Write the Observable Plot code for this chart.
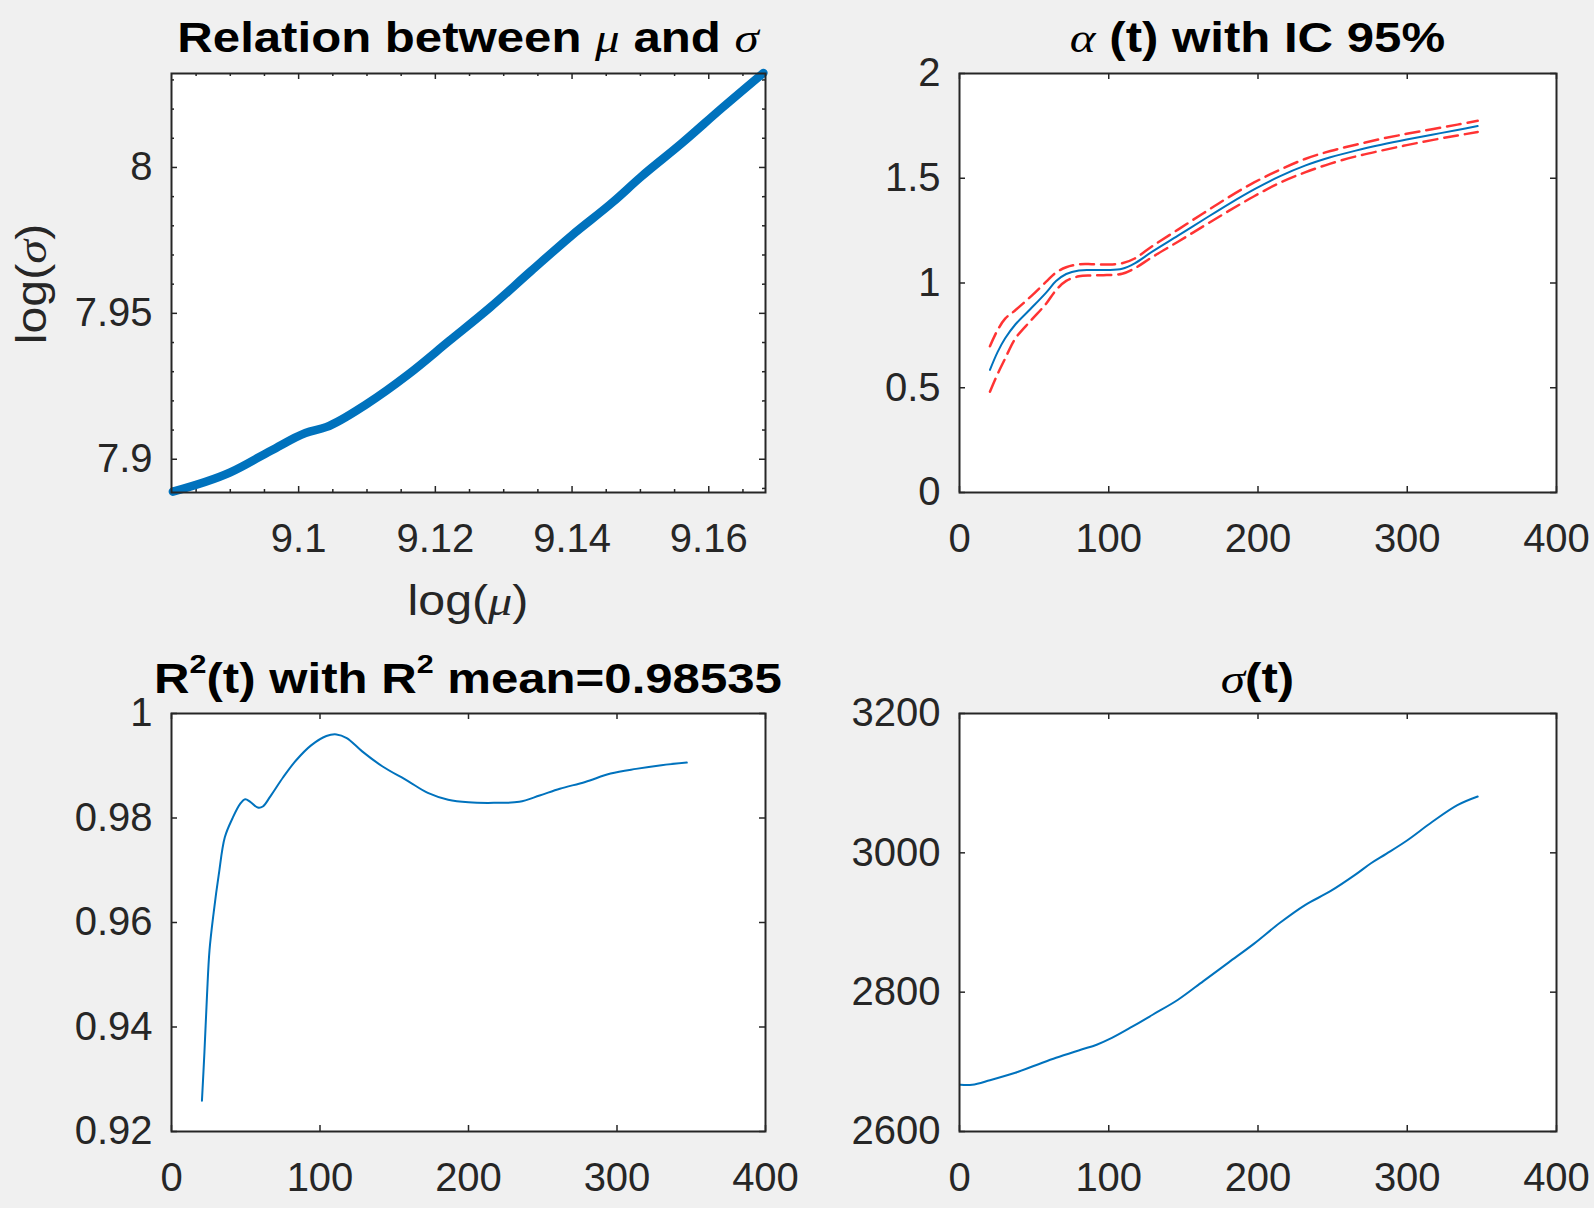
<!DOCTYPE html>
<html>
<head>
<meta charset="utf-8">
<script src="https://cdn.jsdelivr.net/npm/d3@7"></script>
<script src="https://cdn.jsdelivr.net/npm/@observablehq/plot@0.6"></script>
<style>
  html, body { margin: 0; padding: 0; background: #f0f0f0; }
  #root { position: relative; width: 1594px; height: 1208px; background: #f0f0f0; overflow: hidden;
          font-family: "Liberation Sans", Arial, Helvetica, sans-serif; color: #000; }
  .panel { position: absolute; width: 797px; height: 604px; }
  .title { position: absolute; text-align: center; font-weight: bold; font-size: 42px; line-height: 1;
           white-space: nowrap; transform: scaleX(1.17); transform-origin: center; }
  .greek { font-family: "Liberation Serif", "DejaVu Serif", serif; font-style: italic; font-weight: normal; }
  .label { position: absolute; text-align: center; font-size: 42px; line-height: 1; white-space: nowrap; color: #262626; }
  sup { font-size: 0.62em; vertical-align: 0.75em; line-height: 0; }
</style>
</head>
<body>
<div id="root">
  <div class="title" style="left:171px; width:594px; top:17px;">Relation between <span class="greek">μ</span> and <span class="greek">σ</span></div>
  <div class="title" style="left:959px; width:597px; top:17px;"><span class="greek">α</span> (t) with IC 95%</div>
  <div class="title" style="left:171px; width:594px; top:658px;">R<sup>2</sup>(t) with R<sup>2</sup> mean=0.98535</div>
  <div class="title" style="left:959px; width:597px; top:658px;"><span class="greek">σ</span>(t)</div>
  <div class="label" style="left:368px; width:200px; top:580px; transform: scaleX(1.15);">log(<span class="greek">μ</span>)</div>
  <div class="label" style="left:-68px; width:200px; top:263px; transform: rotate(-90deg) scaleX(1.15);">log(<span class="greek">σ</span>)</div>
  <div id="p1" class="panel" style="left:0px; top:0px;"></div>
  <div id="p2" class="panel" style="left:797px; top:0px;"></div>
  <div id="p3" class="panel" style="left:0px; top:604px;"></div>
  <div id="p4" class="panel" style="left:797px; top:604px;"></div>
</div>
<script>
// ---------- Data ----------
// Panel 1: relation between log(mu) and log(sigma)
const logMu    = [9.0816, 9.0900, 9.0960, 9.1010, 9.1040, 9.1100, 9.1160, 9.1220, 9.1280, 9.1340, 9.1400, 9.1460, 9.1500, 9.1560, 9.1620, 9.1680];
const logSigma = [7.8889, 7.8955, 7.9030, 7.9090, 7.9110, 7.9190, 7.9290, 7.9405, 7.9520, 7.9645, 7.9768, 7.9882, 7.9966, 8.0082, 8.0205, 8.0324];
const muTicks = [9.1, 9.12, 9.14, 9.16];
const muMinorTicks = [9.085, 9.09, 9.095, 9.105, 9.11, 9.115, 9.125, 9.13, 9.135, 9.145, 9.15, 9.155, 9.165];
const sigmaLogTicks = [7.9, 7.95, 8];
const sigmaLogMinorTicks = [7.89, 7.91, 7.92, 7.93, 7.94, 7.96, 7.97, 7.98, 7.99, 8.01, 8.02, 8.03];

// Panel 2: alpha(t) with 95% CI
const alphaT     = [20.4, 25.5, 30.6, 37.4, 47.7, 57.9, 64.7, 71.5, 80, 88.5, 98.7, 109, 117.4, 129.4, 146.4, 163.4, 180.4, 197.4, 214.5, 231.5, 248.5, 265.5, 282.6, 299.6, 316.6, 333.6, 347.2];
const alphaValue = [0.585, 0.670, 0.736, 0.802, 0.877, 0.953, 1.009, 1.043, 1.060, 1.062, 1.062, 1.068, 1.094, 1.151, 1.226, 1.302, 1.377, 1.447, 1.509, 1.560, 1.600, 1.632, 1.660, 1.685, 1.708, 1.730, 1.749];
const alphaUpper = [0.698, 0.775, 0.830, 0.870, 0.935, 1.005, 1.050, 1.075, 1.089, 1.090, 1.088, 1.094, 1.117, 1.177, 1.255, 1.333, 1.410, 1.480, 1.540, 1.592, 1.630, 1.660, 1.688, 1.712, 1.734, 1.756, 1.774];
const alphaLower = [0.481, 0.565, 0.640, 0.735, 0.820, 0.900, 0.966, 1.010, 1.032, 1.036, 1.038, 1.044, 1.070, 1.125, 1.197, 1.271, 1.344, 1.414, 1.478, 1.528, 1.570, 1.604, 1.632, 1.658, 1.682, 1.704, 1.721];
const alphaTicks = [0, 0.5, 1, 1.5, 2];

// Panel 3: R^2(t)
const r2T     = [20.5, 22.2, 23.9, 25.6, 28.4, 31.8, 35.9, 41.0, 46.2, 49.6, 53.0, 58.1, 61.5, 66.7, 75.2, 83.8, 94.0, 104.3, 111.1, 118, 128.2, 141.9, 159, 172.6, 186.3, 200, 217.1, 234.2, 247.9, 261.5, 278.6, 295.7, 312.8, 329.9, 347];
const r2Value = [0.9259, 0.9353, 0.9460, 0.9547, 0.9619, 0.9691, 0.9763, 0.9799, 0.9827, 0.9836, 0.9831, 0.9820, 0.9822, 0.9842, 0.9878, 0.9910, 0.9939, 0.9957, 0.9960, 0.9953, 0.9928, 0.9899, 0.9871, 0.9848, 0.9835, 0.9830, 0.9829, 0.9831, 0.9843, 0.9856, 0.9869, 0.9885, 0.9894, 0.9901, 0.9906];
const r2Ticks = [0.92, 0.94, 0.96, 0.98, 1];

// Panel 4: sigma(t)
const sigmaT     = [0.7, 8.5, 20.4, 37.4, 51.1, 64.7, 81.7, 91.9, 102.1, 115.7, 129.4, 146.4, 163.4, 180.4, 197.4, 214.5, 231.5, 248.5, 265.5, 275.7, 285.9, 299.6, 316.6, 333.6, 347.2];
const sigmaValue = [2667.1, 2667.1, 2673.6, 2684.3, 2695.1, 2705.8, 2717.6, 2724.6, 2734.3, 2750.4, 2767.6, 2789.1, 2815.9, 2842.8, 2869.7, 2899.2, 2925.0, 2944.9, 2969.0, 2985.1, 2998.6, 3017.4, 3044.2, 3068.4, 3080.8];
const sigmaTicks = [2600, 2800, 3000, 3200];

const timeTicks = [0, 100, 200, 300, 400];

// ---------- Helpers ----------
const BLUE = "#0072BD";
const RED = "#FF0000";
const AXIS = "#262626";

function zip(xs, ys) { return xs.map((x, i) => ({x, y: ys[i]})); }

function panel({xDomain, yDomain, xTicks, yTicks, xMinor = [], yMinor = [], marks, mL, mR, mT, mB}) {
  const W = 797, H = 604;
  const iw = W - mL - mR, ih = H - mT - mB;
  const T = 6, t = 3;
  const tickStyle = {stroke: AXIS, strokeWidth: 1.5};
  return Plot.plot({
    width: W, height: H,
    marginLeft: mL, marginRight: mR, marginTop: mT, marginBottom: mB,
    style: {background: "transparent", fontFamily: "'Liberation Sans', Arial, sans-serif", fontSize: "40px", color: AXIS, overflow: "visible"},
    x: {domain: xDomain, ticks: xTicks, tickFormat: d => String(d), tickSize: 0, tickPadding: 31, label: null},
    y: {domain: yDomain, ticks: yTicks, tickFormat: d => String(d), tickSize: 0, tickPadding: 19, label: null},
    marks: [
      Plot.frame({fill: "white", stroke: null}),
      Plot.tickX(xTicks, {x: d => d, insetTop: ih - T, ...tickStyle}),
      Plot.tickX(xTicks, {x: d => d, insetBottom: ih - T, ...tickStyle}),
      Plot.tickY(yTicks, {y: d => d, insetRight: iw - T, ...tickStyle}),
      Plot.tickY(yTicks, {y: d => d, insetLeft: iw - T, ...tickStyle}),
      Plot.tickX(xMinor, {x: d => d, insetTop: ih - t, ...tickStyle}),
      Plot.tickX(xMinor, {x: d => d, insetBottom: ih - t, ...tickStyle}),
      Plot.tickY(yMinor, {y: d => d, insetRight: iw - t, ...tickStyle}),
      Plot.tickY(yMinor, {y: d => d, insetLeft: iw - t, ...tickStyle}),
      ...marks,
      Plot.frame({stroke: AXIS, strokeWidth: 2})
    ]
  });
}

// Panel 1
document.getElementById("p1").append(panel({
  xDomain: [9.0814, 9.1683], yDomain: [7.8886, 8.0322],
  xTicks: muTicks, yTicks: sigmaLogTicks, xMinor: muMinorTicks, yMinor: sigmaLogMinorTicks,
  mL: 171, mR: 32, mT: 73, mB: 112,
  marks: [
    Plot.line(zip(logMu, logSigma), {x: "x", y: "y", stroke: BLUE, strokeWidth: 8.5, curve: "monotone-x", strokeLinecap: "round", strokeLinejoin: "round"})
  ]
}));

// Panel 2
document.getElementById("p2").append(panel({
  xDomain: [0, 400], yDomain: [0, 2],
  xTicks: timeTicks, yTicks: alphaTicks,
  mL: 162, mR: 38, mT: 73, mB: 112,
  marks: [
    Plot.line(zip(alphaT, alphaUpper), {x: "x", y: "y", stroke: RED, strokeWidth: 2.5, strokeDasharray: "14,7", strokeOpacity: 0.8, curve: "catmull-rom"}),
    Plot.line(zip(alphaT, alphaLower), {x: "x", y: "y", stroke: RED, strokeWidth: 2.5, strokeDasharray: "14,7", strokeOpacity: 0.8, curve: "catmull-rom"}),
    Plot.line(zip(alphaT, alphaValue), {x: "x", y: "y", stroke: BLUE, strokeWidth: 2, curve: "catmull-rom"})
  ]
}));

// Panel 3
document.getElementById("p3").append(panel({
  xDomain: [0, 400], yDomain: [0.92, 1],
  xTicks: timeTicks, yTicks: r2Ticks,
  mL: 171, mR: 32, mT: 109, mB: 77,
  marks: [
    Plot.line(zip(r2T, r2Value), {x: "x", y: "y", stroke: BLUE, strokeWidth: 2, curve: "catmull-rom"})
  ]
}));

// Panel 4
document.getElementById("p4").append(panel({
  xDomain: [0, 400], yDomain: [2600, 3200],
  xTicks: timeTicks, yTicks: sigmaTicks,
  mL: 162, mR: 38, mT: 109, mB: 77,
  marks: [
    Plot.line(zip(sigmaT, sigmaValue), {x: "x", y: "y", stroke: BLUE, strokeWidth: 2, curve: "catmull-rom"})
  ]
}));
</script>
</body>
</html>
